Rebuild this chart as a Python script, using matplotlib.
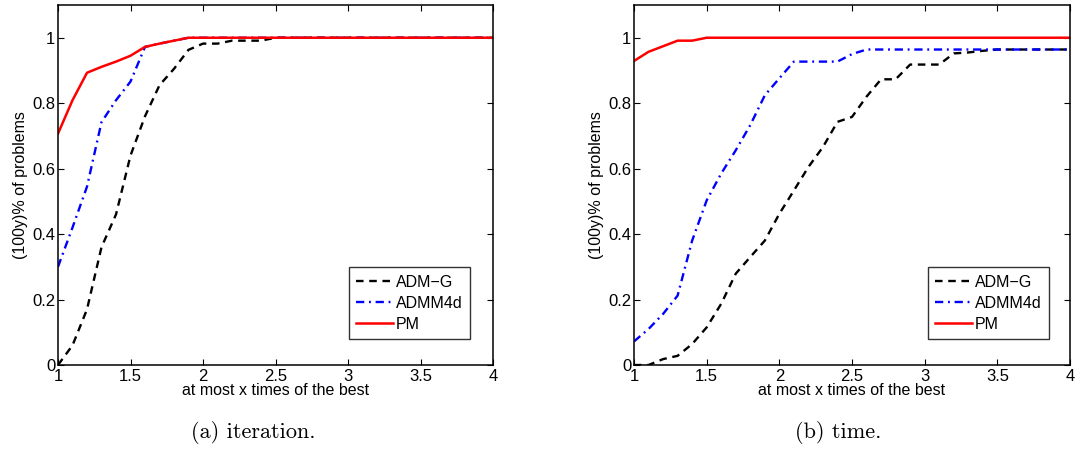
import matplotlib
matplotlib.use("Agg")
import matplotlib.pyplot as plt
import numpy as np

# x grid (ratio to the best)
x_iter = [1.0, 1.1, 1.2, 1.3, 1.4, 1.5, 1.6, 1.7, 1.8, 1.9, 2.0, 2.1, 2.2, 2.3, 2.4, 2.5,
          2.6, 2.7, 2.8, 2.9, 3.0, 3.1, 3.2, 3.3, 3.4, 3.5, 3.6, 3.7, 3.8, 3.9, 4.0]

# (a) iteration
admg_iter = [0.0, 0.06, 0.17, 0.36, 0.46, 0.64, 0.76, 0.855, 0.905, 0.963, 0.982, 0.982, 0.991,
             0.991, 0.991, 1.0, 1.0, 1.0, 1.0, 1.0, 1.0, 1.0, 1.0, 1.0, 1.0, 1.0, 1.0, 1.0, 1.0, 1.0, 1.0]
admm4d_iter = [0.30, 0.42, 0.545, 0.742, 0.809, 0.866, 0.972, 0.982, 0.991, 1.0, 1.0, 1.0, 1.0,
               1.0, 1.0, 1.0, 1.0, 1.0, 1.0, 1.0, 1.0, 1.0, 1.0, 1.0, 1.0, 1.0, 1.0, 1.0, 1.0, 1.0, 1.0]
pm_iter = [0.707, 0.809, 0.893, 0.911, 0.927, 0.945, 0.972, 0.982, 0.991, 1.0, 1.0, 1.0, 1.0,
           1.0, 1.0, 1.0, 1.0, 1.0, 1.0, 1.0, 1.0, 1.0, 1.0, 1.0, 1.0, 1.0, 1.0, 1.0, 1.0, 1.0, 1.0]

# (b) time
x_time = x_iter
admg_time = [0.0, 0.0, 0.018, 0.028, 0.064, 0.115, 0.187, 0.279, 0.33, 0.38, 0.462, 0.533, 0.605,
             0.666, 0.743, 0.758, 0.82, 0.873, 0.873, 0.918, 0.918, 0.918, 0.952, 0.955, 0.96,
             0.964, 0.964, 0.964, 0.964, 0.964, 0.964]
admm4d_time = [0.072, 0.11, 0.156, 0.212, 0.38, 0.503, 0.585, 0.656, 0.733, 0.824, 0.876, 0.927,
               0.927, 0.927, 0.927, 0.95, 0.964, 0.964, 0.964, 0.964, 0.964, 0.964, 0.964, 0.964,
               0.964, 0.964, 0.964, 0.964, 0.964, 0.964, 0.964]
pm_time = [0.929, 0.957, 0.974, 0.991, 0.991, 1.0, 1.0, 1.0, 1.0, 1.0, 1.0, 1.0, 1.0, 1.0, 1.0,
           1.0, 1.0, 1.0, 1.0, 1.0, 1.0, 1.0, 1.0, 1.0, 1.0, 1.0, 1.0, 1.0, 1.0, 1.0, 1.0]

series_names = ["ADM\u2212G", "ADMM4d", "PM"]
captions = ["(a) iteration.", "(b) time."]
xticks = [1, 1.5, 2, 2.5, 3, 3.5, 4]
xticklabels = ["1", "1.5", "2", "2.5", "3", "3.5", "4"]
yticks = [0, 0.2, 0.4, 0.6, 0.8, 1.0]
yticklabels = ["0", "0.2", "0.4", "0.6", "0.8", "1"]

plt.rcParams['font.family'] = ['Liberation Sans', 'DejaVu Sans']

W, H = 1078, 451
fig = plt.figure(figsize=(W / 100, H / 100), dpi=100)

panels = [
    (x_iter, admg_iter, admm4d_iter, pm_iter, 58, 493, 470, 253),
    (x_time, admg_time, admm4d_time, pm_time, 634, 1070, 1049, 838),
]
top_px, bot_px = 5, 365
FS = 11.5

for i, (xs, a, b, c, l, r, leg_r, cap_x) in enumerate(panels):
    ax = fig.add_axes([l / W, 1 - bot_px / H, (r - l) / W, (bot_px - top_px) / H])
    ax.plot(xs, a, color='black', lw=1.7, linestyle=(0, (3.2, 2.4)), label=series_names[0])
    ax.plot(xs, b, color='blue', lw=1.7, linestyle=(0, (3.5, 2, 0.8, 2)), label=series_names[1])
    ax.plot(xs, c, color='red', lw=1.8, linestyle='-', label=series_names[2])
    ax.set_xlim(1, 4)
    ax.set_ylim(0, 1.1)
    ax.set_xticks(xticks)
    ax.set_xticklabels(xticklabels)
    ax.set_yticks(yticks)
    ax.set_yticklabels(yticklabels)
    ax.tick_params(direction='in', top=True, right=True, labelsize=12, length=4, pad=2)
    ax.tick_params(axis='x', pad=3)
    for s in ax.spines.values():
        s.set_linewidth(1.1)
    ax.set_xlabel("at most x times of the best", fontsize=FS, labelpad=-1)
    ax.set_ylabel("(100y)% of problems", fontsize=FS, labelpad=3)
    lg = ax.legend(loc='lower right', bbox_to_anchor=(leg_r / W, 1 - 339 / H),
                   bbox_transform=fig.transFigure, fontsize=FS, frameon=True,
                   fancybox=False, edgecolor='black', handlelength=2.3,
                   handletextpad=0.2, borderpad=0.45, labelspacing=0.38, borderaxespad=0)
    lg.get_frame().set_linewidth(1.0)
    ax.text(cap_x / W, 1 - 433 / H, captions[i], transform=fig.transFigure,
            ha='center', va='center', fontsize=16, family='cmr10')

fig.savefig("out.png", dpi=100)
